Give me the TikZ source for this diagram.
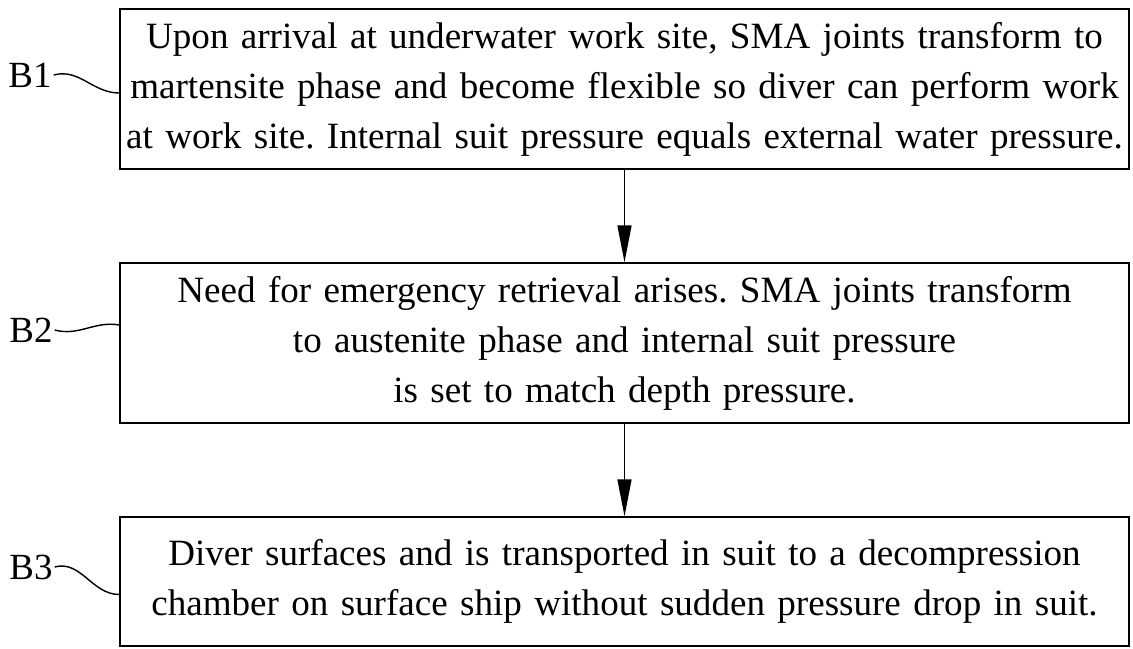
\documentclass[tikz,border=0pt]{standalone}
\usepackage{fontspec}
\setmainfont{Liberation Serif}
\usetikzlibrary{arrows.meta}

\begin{document}
\frenchspacing
\begin{tikzpicture}[
            box/.style={
                rectangle,
                draw=black,
                line width=0.8pt,
                minimum width=20.18cm,
                text width=20.18cm,
                align=center,
                inner sep=0pt,
                font=\fontsize{21.1}{28.5}\selectfont
            },
            tag/.style={
                draw=none,
                inner sep=1pt,
                font=\fontsize{21}{25}\selectfont
            },
            arrow/.style={-{Triangle[length=0.74cm,width=0.28cm]}, line width=0.8pt},
            wave/.style={line width=0.8pt}
        ]
        \useasboundingbox (0,0) rectangle (22.66,-12.96);

        % Step boxes
        \node[box, minimum height=3.2cm] (box1) at (12.49,-1.78) {Upon arrival at underwater work site, SMA joints transform to\\martensite phase and become flexible so diver can perform work\\at work site. Internal suit pressure equals external water pressure.};
        \node[box, minimum height=3.2cm] (box2) at (12.49,-6.86) {Need for emergency retrieval arises. SMA joints transform\\to austenite phase and internal suit pressure\\is set to match depth pressure.};
        \node[box, minimum height=2.58cm] (box3) at (12.49,-11.63) {Diver surfaces and is transported in suit to a decompression\\chamber on surface ship without sudden pressure drop in suit.};

        % Connecting arrows
        \draw[arrow] (box1.south) -- (box2.north);
        \draw[arrow] (box2.south) -- (box3.north);

        % Step labels
        \node[tag] (b1) at (0.6,-1.5) {B1};
        \node[tag] (b2) at (0.62,-6.6) {B2};
        \node[tag] (b3) at (0.62,-11.34) {B3};

        % Where the leader lines meet the boxes
        \coordinate (b1end) at ([yshift=-0.08cm]box1.west);
        \coordinate (b2end) at ([yshift=0.36cm]box2.west);
        \coordinate (b3end) at ([yshift=-0.26cm]box3.west);

        \draw[wave] (b1.east) to[out=15, in=180] (b1end);
        \draw[wave] (b2.east) to[out=-15, in=170] (b2end);
        \draw[wave] (b3.east) to[out=15, in=180] (b3end);

        \end{tikzpicture}
\end{document}
